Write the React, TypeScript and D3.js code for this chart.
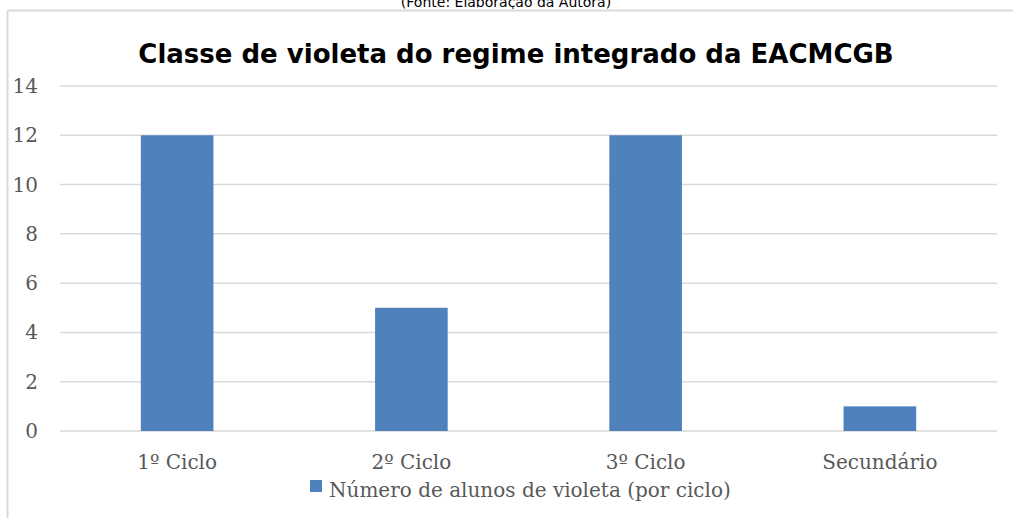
import React from "react";
import * as d3 from "d3";

const WIDTH = 1013;
const HEIGHT = 518;

const categories = ["1º Ciclo", "2º Ciclo", "3º Ciclo", "Secundário"];
const values = [12, 5, 12, 1];
const yTicks = [0, 2, 4, 6, 8, 10, 12, 14];

const TITLE = "Classe de violeta do regime integrado da EACMCGB";
const SOURCE = "(Fonte: Elaboração da Autora)";
const SERIES_NAME = "Número de alunos de violeta (por ciclo)";

const BAR_COLOR = "#4F81BD";
const GRID_COLOR = "#d9d9d9";
const TEXT_COLOR = "#595959";
const SERIF = "'DejaVu Serif', serif";

const margin = {left: 60, right: 16, top: 86, bottom: 87};

export default function App() {
    const x = d3.scaleBand<string>()
        .domain(categories)
        .range([margin.left, WIDTH - margin.right])
        .paddingInner(0.69)
        .paddingOuter(0.345);

    const y = d3.scaleLinear()
        .domain([0, 14])
        .range([HEIGHT - margin.bottom, margin.top]);

    return (
        <div style={{position: "absolute", left: 0, top: 0}}>
            <svg width={WIDTH} height={HEIGHT} style={{display: "block"}}>
                <rect width={WIDTH} height={HEIGHT} fill="#fff"/>

                <text x={506} y={7} textAnchor="middle" fontFamily="'DejaVu Sans', sans-serif"
                      fontSize={14} fill="#000">{SOURCE}</text>
                <rect x={0} y={9} width={WIDTH} height={1} fill="#fff"/>

                {/* frame */}
                <line x1={7.5} y1={10.5} x2={WIDTH} y2={10.5} stroke={GRID_COLOR} strokeWidth={2}/>
                <line x1={7.5} y1={10.5} x2={7.5} y2={HEIGHT} stroke={GRID_COLOR} strokeWidth={2}/>

                <text x={516} y={63} textAnchor="middle" fontFamily="'DejaVu Sans', Verdana, sans-serif"
                      fontWeight="bold" fontSize={26} fill="#000">{TITLE}</text>

                {yTicks.map(t => (
                    <g key={t}>
                        <line x1={margin.left} x2={WIDTH - margin.right} y1={y(t)} y2={y(t)}
                              stroke={GRID_COLOR} strokeWidth={1.5}/>
                        <text x={38} y={y(t)} dy="0.35em" textAnchor="end" fontFamily={SERIF}
                              fontSize={20} fill={TEXT_COLOR}>{t}</text>
                    </g>
                ))}

                {categories.map((c, i) => (
                    <rect key={c} x={x(c)} y={y(values[i])} width={x.bandwidth()}
                          height={y(0) - y(values[i])} fill={BAR_COLOR}/>
                ))}

                {categories.map(c => (
                    <text key={c} x={(x(c) ?? 0) + x.bandwidth() / 2} y={469} textAnchor="middle"
                          fontFamily={SERIF} fontSize={20} fill={TEXT_COLOR}>{c}</text>
                ))}

                <rect x={310} y={480} width={12} height={12} fill={BAR_COLOR}/>
                <text x={329} y={497} fontFamily={SERIF} fontSize={20} fill={TEXT_COLOR}>{SERIES_NAME}</text>
            </svg>
        </div>
    );
}
